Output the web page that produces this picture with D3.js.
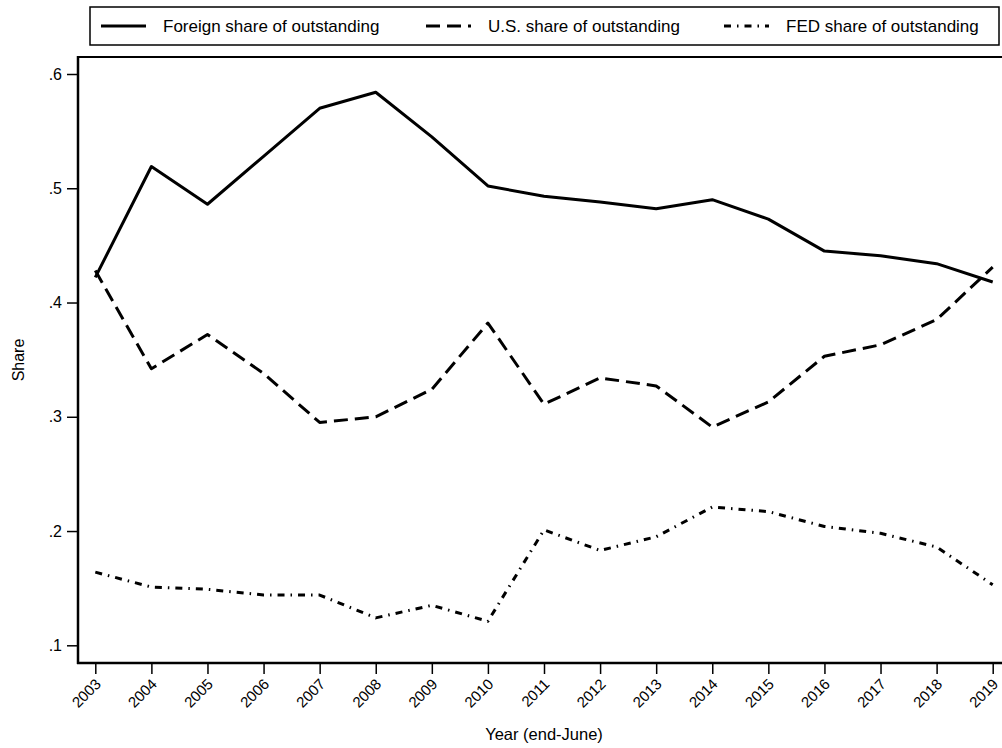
<!DOCTYPE html>
<html>
<head>
<meta charset="utf-8">
<script src="https://cdn.jsdelivr.net/npm/d3@7"></script>
<style>
  body { margin: 0; background: #fff; }
  svg text { font-family: "Liberation Sans", Arial, sans-serif; fill: #000; }
</style>
</head>
<body>
<script>
const years = [2003, 2004, 2005, 2006, 2007, 2008, 2009, 2010, 2011, 2012, 2013, 2014, 2015, 2016, 2017, 2018, 2019];
const foreignShare = [0.422, 0.519, 0.486, 0.528, 0.570, 0.584, 0.545, 0.502, 0.493, 0.488, 0.482, 0.490, 0.473, 0.445, 0.441, 0.434, 0.418];
const usShare = [0.428, 0.342, 0.372, 0.338, 0.295, 0.300, 0.324, 0.382, 0.311, 0.334, 0.327, 0.291, 0.313, 0.353, 0.363, 0.385, 0.431];
const fedShare = [0.164, 0.151, 0.149, 0.144, 0.144, 0.124, 0.135, 0.121, 0.201, 0.183, 0.195, 0.221, 0.217, 0.204, 0.198, 0.186, 0.153];
const yTicks = [0.1, 0.2, 0.3, 0.4, 0.5, 0.6];
const legendLabels = ["Foreign share of outstanding", "U.S. share of outstanding", "FED share of outstanding"];

const width = 1002, height = 748;
const plotLeft = 78, plotRight = 1002, plotTop = 57, plotBottom = 663;

const svg = d3.select("body").append("svg")
    .attr("width", width)
    .attr("height", height);

const x = d3.scaleLinear().domain([2003, 2019]).range([95.3, 992.7]);
const y = d3.scaleLinear().domain([0.1, 0.6]).range([645.3, 74]);

// plot frame: top rule, left and bottom axes
svg.append("line")
    .attr("x1", plotLeft).attr("x2", plotRight)
    .attr("y1", plotTop).attr("y2", plotTop)
    .attr("stroke", "#000").attr("stroke-width", 2);

const yAxis = svg.append("g")
    .attr("transform", `translate(${plotLeft},0)`)
    .call(d3.axisLeft(y).tickValues(yTicks).tickSize(11).tickPadding(5)
        .tickFormat(d => d3.format(".1f")(d).replace(/^0/, "")));
yAxis.select(".domain").remove();
yAxis.selectAll(".tick line").attr("stroke", "#000").attr("stroke-width", 1.5);
yAxis.selectAll("text").style("font-size", "16px");
svg.append("line")
    .attr("x1", plotLeft).attr("x2", plotLeft)
    .attr("y1", plotTop - 1).attr("y2", plotBottom + 1)
    .attr("stroke", "#000").attr("stroke-width", 2.5);

const xAxis = svg.append("g")
    .attr("transform", `translate(0,${plotBottom})`)
    .call(d3.axisBottom(x).tickValues(years).tickSize(11).tickFormat(d3.format("d")));
xAxis.select(".domain").remove();
xAxis.selectAll(".tick line").attr("stroke", "#000").attr("stroke-width", 1.5);
xAxis.selectAll("text")
    .style("font-size", "15px")
    .attr("text-anchor", "end")
    .attr("dy", "0")
    .attr("y", 0)
    .attr("transform", "translate(6,22) rotate(-45)");
svg.append("line")
    .attr("x1", plotLeft - 1).attr("x2", plotRight)
    .attr("y1", plotBottom).attr("y2", plotBottom)
    .attr("stroke", "#000").attr("stroke-width", 2.5);

// axis titles
svg.append("text")
    .attr("transform", `translate(24,${(plotTop + plotBottom) / 2}) rotate(-90)`)
    .attr("text-anchor", "middle")
    .style("font-size", "16px")
    .text("Share");
svg.append("text")
    .attr("x", 544)
    .attr("y", 740)
    .attr("text-anchor", "middle")
    .style("font-size", "16.5px")
    .text("Year (end-June)");

// series
const styles = [
    { values: foreignShare, dash: null },
    { values: usShare, dash: "14,7" },
    { values: fedShare, dash: "7,6,1.5,6" }
];

const line = d3.line()
    .x(d => x(d[0]))
    .y(d => y(d[1]));

styles.forEach(s => {
    svg.append("path")
        .datum(years.map((yr, i) => [yr, s.values[i]]))
        .attr("d", line)
        .attr("fill", "none")
        .attr("stroke", "#000")
        .attr("stroke-width", 3)
        .attr("stroke-linejoin", "round")
        .attr("stroke-dasharray", s.dash);
});

// legend
const legend = svg.append("g");
legend.append("rect")
    .attr("x", 90).attr("y", 7)
    .attr("width", 909).attr("height", 38)
    .attr("fill", "#fff")
    .attr("stroke", "#000")
    .attr("stroke-width", 1.5);

const legendX = [101, 426, 724];
legendLabels.forEach((label, i) => {
    legend.append("line")
        .attr("x1", legendX[i]).attr("x2", legendX[i] + 45)
        .attr("y1", 26).attr("y2", 26)
        .attr("stroke", "#000")
        .attr("stroke-width", 3)
        .attr("stroke-dasharray", styles[i].dash);
    legend.append("text")
        .attr("x", legendX[i] + 62)
        .attr("y", 32)
        .style("font-size", "17px")
        .text(label);
});
</script>
</body>
</html>
